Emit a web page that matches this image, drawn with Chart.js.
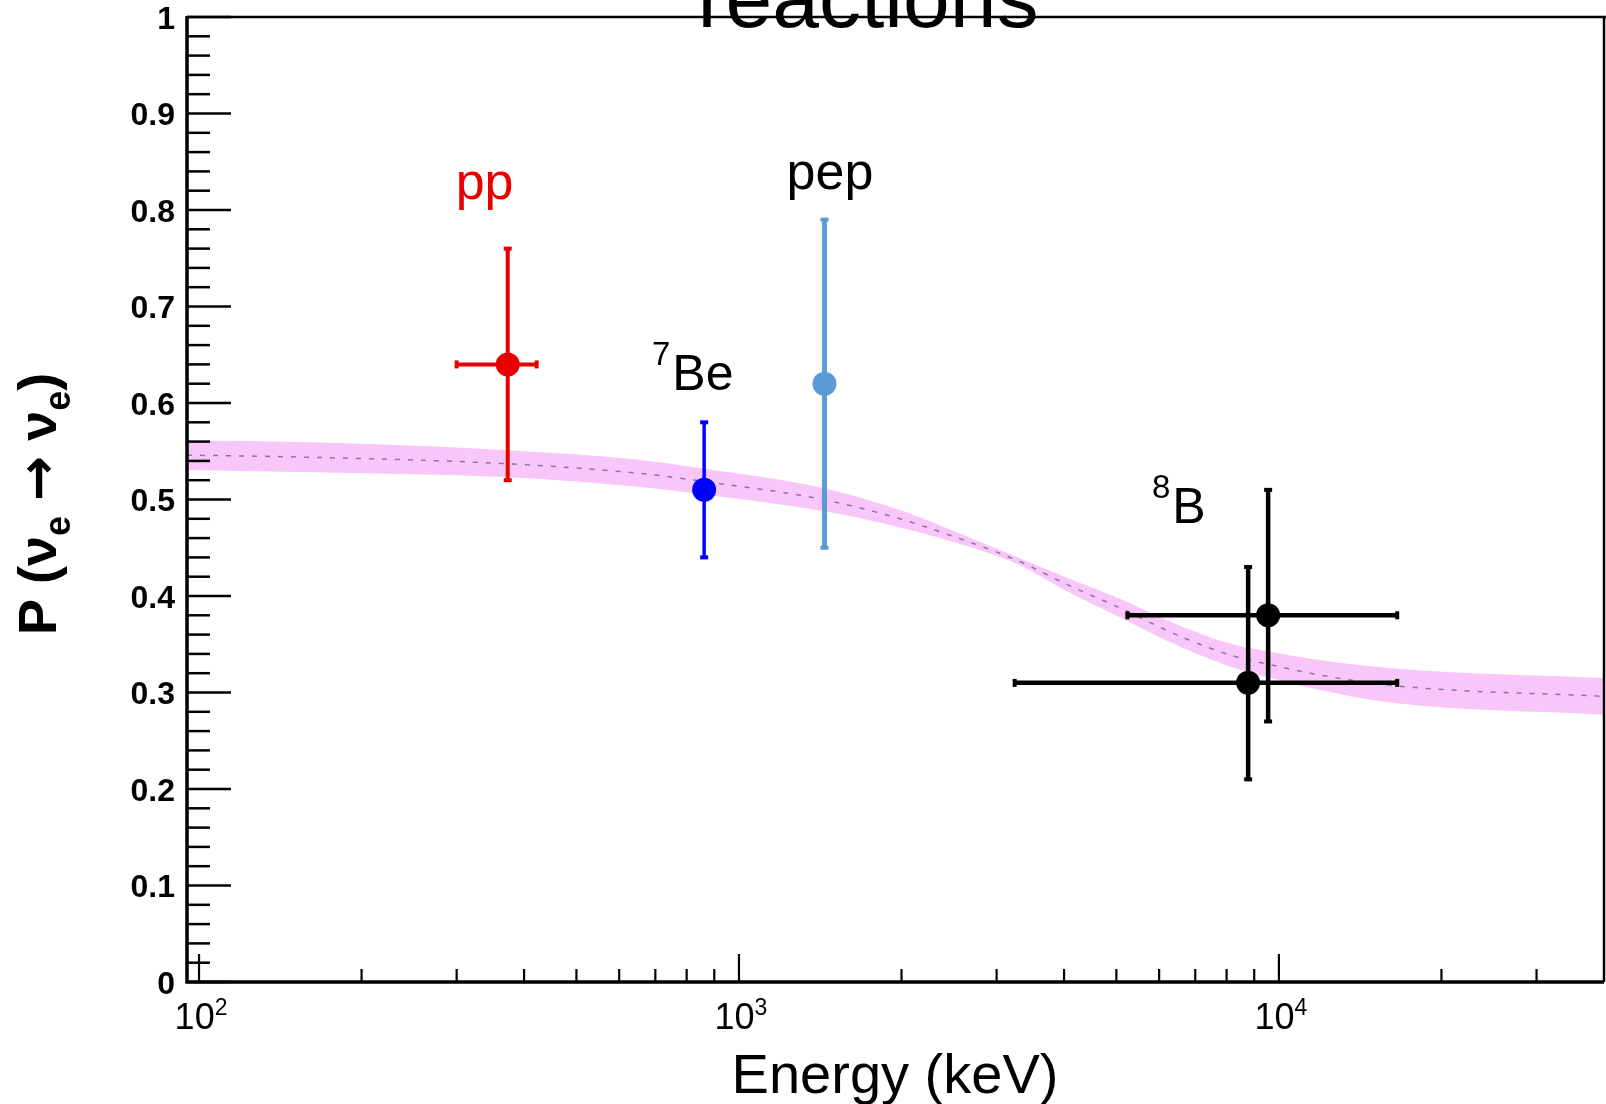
<!DOCTYPE html>
<html>
<head>
<meta charset="utf-8">
<script src="https://cdn.jsdelivr.net/npm/chart.js@4.4.1/dist/chart.umd.min.js"></script>
<style>
  html, body { margin: 0; padding: 0; background: #ffffff; }
  canvas { display: block; }
</style>
</head>
<body>
<canvas id="chart" width="1606" height="1104"></canvas>
<script>
// MSW-LMA prediction band: energy grid (keV), central probability, half-width of the band
const bandEnergy = [95, 154, 373, 656, 851, 1431, 1987, 2459, 3272, 4050, 5012, 6641, 8218, 10171, 11414, 16400, 40000];
const bandCentre = [0.546, 0.544, 0.537, 0.527, 0.519, 0.500, 0.480, 0.463, 0.437, 0.412, 0.389, 0.357, 0.338, 0.326, 0.320, 0.307, 0.296];
const bandHalf   = [0.0155, 0.0155, 0.014, 0.014, 0.0135, 0.012, 0.009, 0.006, 0.0035, 0.007, 0.0095, 0.011, 0.012, 0.014, 0.015, 0.018, 0.019];

// Measured survival probabilities per solar neutrino source
const measSource = ['pp', '7Be', 'pep', '8B', '8B'];
const measEnergy = [373, 862, 1440, 9550, 8770];
const measProb   = [0.64, 0.51, 0.62, 0.38, 0.31];
const probLow    = [0.52, 0.44, 0.45, 0.27, 0.21];
const probHigh   = [0.76, 0.58, 0.79, 0.51, 0.43];
const energyLow  = [300, null, null, 5240, 3240];
const energyHigh = [422, null, null, 16560, 16560];

// Axis ticks
const xMajorTicks = [100, 1000, 10000];
const xMajorExp   = ['2', '3', '4'];
const yTickValues = [0, 0.1, 0.2, 0.3, 0.4, 0.5, 0.6, 0.7, 0.8, 0.9, 1];
const yTickLabels = ['0', '0.1', '0.2', '0.3', '0.4', '0.5', '0.6', '0.7', '0.8', '0.9', '1'];

const FONT = '"Liberation Sans", Arial, Helvetica, sans-serif';

// Source labels anchored in data coordinates
const sourceLabels = [
  { sup: '',  text: 'pp',  energy: 338,  prob: 0.811,  align: 'center', color: '#e60000' },
  { sup: '7', text: 'Be',  energy: 690,  prob: 0.6135, align: 'left',   color: '#000000' },
  { sup: '',  text: 'pep', energy: 1474, prob: 0.822,  align: 'center', color: '#000000' },
  { sup: '8', text: 'B',   energy: 5820, prob: 0.4756, align: 'left',   color: '#000000' }
];

const bandLowerPts = bandEnergy.map((e, i) => ({ x: e, y: bandCentre[i] - bandHalf[i] }));
const bandUpperPts = bandEnergy.map((e, i) => ({ x: e, y: bandCentre[i] + bandHalf[i] }));
const bandMidPts   = bandEnergy.map((e, i) => ({ x: e, y: bandCentre[i] }));

function pointsFor(indices) {
  return indices.map(i => ({ x: measEnergy[i], y: measProb[i] }));
}

function measurementDataset(label, indices, color, errWidth) {
  return {
    label: label,
    data: pointsFor(indices),
    measIdx: indices,
    errWidth: errWidth,
    order: 0,
    showLine: false,
    pointRadius: 12,
    pointHoverRadius: 12,
    pointBackgroundColor: color,
    pointBorderColor: color,
    borderColor: color,
    backgroundColor: color,
    pointBorderWidth: 0
  };
}

const idx = name => measSource.map((s, i) => s === name ? i : -1).filter(i => i >= 0);

// Error bars, frame, ticks and text
const decorations = {
  id: 'decorations',
  beforeDatasetDraw(chart, args) {
    const ds = chart.data.datasets[args.index];
    if (!ds.measIdx) return;
    const ctx = chart.ctx, xs = chart.scales.x, ys = chart.scales.y;
    ctx.save();
    ctx.strokeStyle = ds.borderColor;
    ctx.fillStyle = ds.borderColor;
    ctx.lineWidth = ds.errWidth;
    ds.measIdx.forEach(i => {
      const px = xs.getPixelForValue(measEnergy[i]);
      const py = ys.getPixelForValue(measProb[i]);
      const yLo = ys.getPixelForValue(probLow[i]);
      const yHi = ys.getPixelForValue(probHigh[i]);
      ctx.beginPath(); ctx.moveTo(px, yHi); ctx.lineTo(px, yLo); ctx.stroke();
      ctx.fillRect(px - 4, yHi - 2, 8, 4);
      ctx.fillRect(px - 4, yLo - 2, 8, 4);
      if (energyLow[i] != null) {
        const xLo = xs.getPixelForValue(energyLow[i]);
        const xHi = xs.getPixelForValue(energyHigh[i]);
        ctx.beginPath(); ctx.moveTo(xLo, py); ctx.lineTo(xHi, py); ctx.stroke();
        ctx.fillRect(xLo - 2, py - 4, 4, 8);
        ctx.fillRect(xHi - 2, py - 4, 4, 8);
      }
    });
    ctx.restore();
  },
  afterDraw(chart) {
    const ctx = chart.ctx, xs = chart.scales.x, ys = chart.scales.y;
    const a = chart.chartArea;
    ctx.save();
    ctx.strokeStyle = '#000';
    ctx.fillStyle = '#000';

    // frame
    ctx.lineWidth = 2.5;
    ctx.beginPath();
    ctx.moveTo(a.left, a.top); ctx.lineTo(chart.width, a.top);
    ctx.moveTo(a.right, a.top); ctx.lineTo(a.right, a.bottom);
    ctx.stroke();
    ctx.lineWidth = 3.5;
    ctx.beginPath();
    ctx.moveTo(a.left, a.top - 1); ctx.lineTo(a.left, a.bottom + 1.5);
    ctx.moveTo(a.left - 1.5, a.bottom); ctx.lineTo(a.right, a.bottom);
    ctx.stroke();

    // y ticks (inward): major every 0.1, minor every 0.02
    ctx.lineWidth = 2.5;
    for (let k = 0; k <= 50; k++) {
      const y = ys.getPixelForValue(k / 50);
      const len = (k % 5 === 0) ? 44 : 23;
      ctx.beginPath(); ctx.moveTo(a.left, y); ctx.lineTo(a.left + len, y); ctx.stroke();
    }
    ctx.font = 'bold 32px ' + FONT;
    ctx.textAlign = 'right';
    ctx.textBaseline = 'middle';
    yTickValues.forEach((v, i) => {
      ctx.fillText(yTickLabels[i], a.left - 12, ys.getPixelForValue(v) + 3);
    });

    // x ticks (inward): decades and minor ticks
    ctx.lineWidth = 2.2;
    xMajorTicks.forEach(d => {
      for (let m = 1; m <= 9; m++) {
        const v = m * d;
        if (v < xs.min || v >= xs.max) continue;
        const x = xs.getPixelForValue(v);
        const len = (m === 1) ? 28 : 13;
        ctx.beginPath(); ctx.moveTo(x, a.bottom); ctx.lineTo(x, a.bottom - len); ctx.stroke();
      }
    });
    ctx.textAlign = 'left';
    ctx.textBaseline = 'alphabetic';
    xMajorTicks.forEach((v, i) => {
      const x = xs.getPixelForValue(v);
      ctx.font = '36px ' + FONT;
      const wBase = ctx.measureText('10').width;
      ctx.font = '23px ' + FONT;
      const wExp = ctx.measureText(xMajorExp[i]).width;
      const start = x + 2 - (wBase + wExp) / 2;
      ctx.font = '36px ' + FONT;
      ctx.fillText('10', start, a.bottom + 47);
      ctx.font = '23px ' + FONT;
      ctx.fillText(xMajorExp[i], start + wBase, a.bottom + 33);
    });

    // x axis title
    ctx.font = '56px ' + FONT;
    ctx.textAlign = 'center';
    ctx.fillText('Energy (keV)', 895, 1093);

    // y axis title, rotated, built from pieces with subscripts
    ctx.save();
    ctx.translate(56, 635);
    ctx.rotate(-Math.PI / 2);
    ctx.textAlign = 'left';
    const big = 'bold 54px ' + FONT, sub = 'bold 36px ' + FONT;
    const arrowFont = 'bold 54px "DejaVu Sans", sans-serif';
    const pieces = [
      ['P (', big, 0], ['\u03BD', big, 0], ['e', sub, 14], [' ', big, 0],
      ['\u2192', arrowFont, 0], [' ', big, 0], ['\u03BD', big, 0], ['e', sub, 14], [')', big, 0]
    ];
    let cx = 0;
    pieces.forEach(([t, f, dy]) => {
      ctx.font = f;
      ctx.fillText(t, cx, dy);
      cx += ctx.measureText(t).width;
    });
    ctx.restore();

    // source labels
    sourceLabels.forEach(l => {
      const x = xs.getPixelForValue(l.energy);
      const y = ys.getPixelForValue(l.prob);
      ctx.fillStyle = l.color;
      if (l.align === 'center') {
        ctx.font = '52px ' + FONT;
        ctx.textAlign = 'center';
        ctx.fillText(l.text, x, y);
      } else {
        ctx.textAlign = 'left';
        ctx.font = '33px ' + FONT;
        ctx.fillText(l.sup, x, y - 25);
        const w = ctx.measureText(l.sup).width;
        ctx.font = '50px ' + FONT;
        ctx.fillText(l.text, x + w + 2, y);
      }
    });

    // plot title (top line partly outside the canvas)
    ctx.fillStyle = '#000';
    ctx.font = '84px ' + FONT;
    ctx.textAlign = 'center';
    ctx.fillText('reactions', 868, 27);

    ctx.restore();
  }
};

new Chart(document.getElementById('chart'), {
  type: 'scatter',
  data: {
    datasets: [
      { label: 'band low', data: bandLowerPts, order: 3, showLine: true, borderWidth: 0, pointRadius: 0,
        borderColor: 'rgba(0,0,0,0)', fill: false, cubicInterpolationMode: 'monotone' },
      { label: 'band high', data: bandUpperPts, order: 2, showLine: true, borderWidth: 0, pointRadius: 0,
        borderColor: 'rgba(0,0,0,0)', backgroundColor: '#f8c6f8', fill: '-1', cubicInterpolationMode: 'monotone' },
      { label: 'LMA', data: bandMidPts, order: 1, showLine: true, borderWidth: 1.5, pointRadius: 0,
        borderColor: 'rgba(110,100,130,0.8)', borderDash: [5, 8], fill: false, cubicInterpolationMode: 'monotone' },
      measurementDataset('pp', idx('pp'), '#e60000', 4),
      measurementDataset('7Be', idx('7Be'), '#0000ff', 3.5),
      measurementDataset('pep', idx('pep'), '#5b9bd5', 5),
      measurementDataset('8B', idx('8B'), '#000000', 4.5)
    ]
  },
  options: {
    responsive: false,
    animation: false,
    devicePixelRatio: 1,
    layout: { autoPadding: false, padding: { left: 187, right: 2, top: 17, bottom: 122 } },
    plugins: { legend: { display: false }, tooltip: { enabled: false } },
    scales: {
      x: { type: 'logarithmic', min: 95, max: 40000, display: false },
      y: { type: 'linear', min: 0, max: 1, display: false }
    }
  },
  plugins: [decorations]
});
</script>
</body>
</html>
